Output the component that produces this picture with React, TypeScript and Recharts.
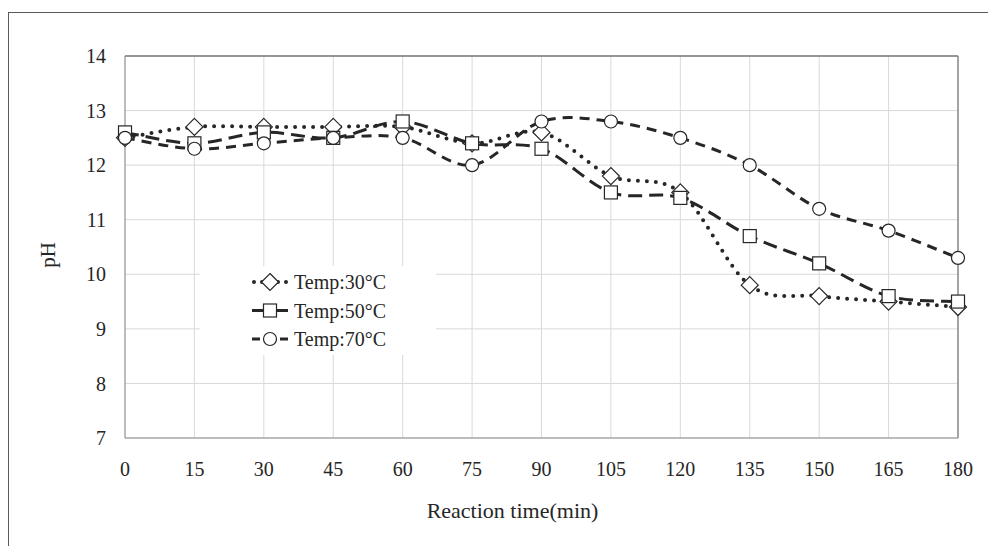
import {
  LineChart,
  Line,
  XAxis,
  YAxis,
  CartesianGrid,
  Legend,
  ReferenceLine,
  Label,
} from "recharts";

const times = [0, 15, 30, 45, 60, 75, 90, 105, 120, 135, 150, 165, 180];
const ph30 = [12.5, 12.7, 12.7, 12.7, 12.7, 12.4, 12.6, 11.8, 11.5, 9.8, 9.6, 9.5, 9.4];
const ph50 = [12.6, 12.4, 12.6, 12.5, 12.8, 12.4, 12.3, 11.5, 11.4, 10.7, 10.2, 9.6, 9.5];
const ph70 = [12.5, 12.3, 12.4, 12.5, 12.5, 12.0, 12.8, 12.8, 12.5, 12.0, 11.2, 10.8, 10.3];
const yTicks = [7, 8, 9, 10, 11, 12, 13, 14];
const seriesNames = ["Temp:30°C", "Temp:50°C", "Temp:70°C"];

const data = times.map((t, i) => ({
  time: t,
  t30: ph30[i],
  t50: ph50[i],
  t70: ph70[i],
}));

const INK = "#262626";
const FONT = "'Liberation Serif', 'Times New Roman', serif";

// Excel style smoothed line (Catmull-Rom through the points)
function smoothCurve(context: any) {
  let xs: number[] = [];
  let ys: number[] = [];
  return {
    areaStart() {},
    areaEnd() {},
    lineStart() {
      xs = [];
      ys = [];
    },
    lineEnd() {
      const n = xs.length;
      if (!n) return;
      context.moveTo(xs[0], ys[0]);
      for (let i = 0; i < n - 1; i++) {
        const x0 = xs[Math.max(i - 1, 0)], y0 = ys[Math.max(i - 1, 0)];
        const x1 = xs[i], y1 = ys[i];
        const x2 = xs[i + 1], y2 = ys[i + 1];
        const x3 = xs[Math.min(i + 2, n - 1)], y3 = ys[Math.min(i + 2, n - 1)];
        context.bezierCurveTo(
          x1 + (x2 - x0) / 6,
          y1 + (y2 - y0) / 6,
          x2 - (x3 - x1) / 6,
          y2 - (y3 - y1) / 6,
          x2,
          y2
        );
      }
    },
    point(x: number, y: number) {
      xs.push(+x);
      ys.push(+y);
    },
  };
}

function Diamond({ cx, cy }: { cx: number; cy: number }) {
  const r = 8.5;
  return (
    <polygon
      points={`${cx},${cy - r} ${cx + r},${cy} ${cx},${cy + r} ${cx - r},${cy}`}
      fill="#fff"
      stroke={INK}
      strokeWidth={1.2}
    />
  );
}

function Square({ cx, cy }: { cx: number; cy: number }) {
  return <rect x={cx - 6.5} y={cy - 6.5} width={13} height={13} fill="#fff" stroke={INK} strokeWidth={1.2} />;
}

function Circle({ cx, cy }: { cx: number; cy: number }) {
  return <circle cx={cx} cy={cy} r={6.5} fill="#fff" stroke={INK} strokeWidth={1.2} />;
}

const markers = [Diamond, Square, Circle];
const dashes = ["0 9", "14 7", "10 7"];
const widths = [4, 3, 3];

function makeDot(idx: number) {
  const Mark = markers[idx];
  return (props: any) => (
    <g key={`dot-${idx}-${props.index}`}>
      <Mark cx={props.cx} cy={props.cy} />
    </g>
  );
}

function LegendBox() {
  return (
    <svg width={236} height={89}>
      {seriesNames.map((name, i) => {
        const Mark = markers[i];
        const y = 16 + i * 28.5;
        return (
          <g key={name}>
            <line
              x1={i === 0 ? 54 : 52}
              x2={88}
              y1={y}
              y2={y}
              stroke={INK}
              strokeWidth={widths[i]}
              strokeDasharray={i === 0 ? "0 8" : i === 1 ? "12 12" : "8 20"}
              strokeLinecap={i === 0 ? "round" : "butt"}
            />
            <Mark cx={70} cy={y} />
            <text x={94} y={y + 7} fontSize={20} fontFamily={FONT} fill={INK}>
              {name}
            </text>
          </g>
        );
      })}
    </svg>
  );
}

export default function App() {
  return (
    <div style={{ position: "relative", width: 988, height: 538 }}>
      <div
        style={{
          position: "absolute",
          left: 0,
          top: 4,
          right: -20,
          bottom: -20,
          borderTop: "1px solid #595959",
          borderLeft: "1px solid #595959",
        }}
      />
      <LineChart
        width={988}
        height={538}
        data={data}
        margin={{ top: 48, right: 38, left: 0, bottom: 0 }}
        style={{ fontFamily: FONT }}
      >
        <CartesianGrid stroke="#d9d9d9" strokeWidth={1} />
        <XAxis
          dataKey="time"
          type="number"
          domain={[0, 180]}
          ticks={times}
          height={108}
          tickLine={false}
          tickSize={0}
          tickMargin={24}
          stroke="#8c8c8c"
          tick={{ fill: INK, fontSize: 20, fontFamily: FONT }}
        >
          <Label
            value="Reaction time(min)"
            position="insideBottom"
            offset={28}
            dx={-29}
            style={{ fill: INK, fontSize: 22, fontFamily: FONT }}
          />
        </XAxis>
        <YAxis
          type="number"
          domain={[7, 14]}
          ticks={yTicks}
          width={117}
          tickLine={false}
          tickSize={0}
          tickMargin={19}
          stroke="#8c8c8c"
          tick={{ fill: INK, fontSize: 20, fontFamily: FONT }}
        >
          <Label
            value="pH"
            angle={-90}
            position="insideLeft"
            offset={40}
            dy={8}
            style={{ fill: INK, fontSize: 21, fontFamily: FONT, textAnchor: "middle" }}
          />
        </YAxis>
        <ReferenceLine y={14} stroke="#404040" strokeWidth={1} />
        <ReferenceLine x={180} stroke="#8c8c8c" strokeWidth={1.5} />
        {["t30", "t50", "t70"].map((key, i) => (
          <Line
            key={key}
            dataKey={key}
            name={seriesNames[i]}
            type={smoothCurve as any}
            stroke={INK}
            strokeWidth={widths[i]}
            strokeDasharray={dashes[i]}
            strokeLinecap={i === 0 ? "round" : "butt"}
            dot={makeDot(i)}
            activeDot={false}
            isAnimationActive={false}
          />
        ))}
        <Legend
          layout="vertical"
          verticalAlign="middle"
          align="center"
          content={() => <LegendBox />}
          wrapperStyle={{
            position: "absolute",
            left: 192,
            top: 258,
            width: 236,
            height: 89,
            background: "#fff",
          }}
        />
      </LineChart>
    </div>
  );
}
